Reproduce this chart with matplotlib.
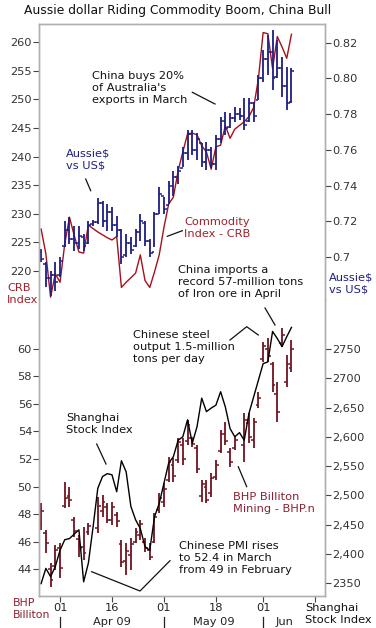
import numpy as np
import pandas as pd
import matplotlib
matplotlib.use('Agg')
import matplotlib.pyplot as plt
from matplotlib.lines import Line2D

# Trading days shown on the chart
dates = pd.bdate_range('2009-03-26', '2009-06-09')

# Aussie dollar vs US$ (OHLC)
aud_open = [0.7030, 0.6960, 0.6880, 0.6900, 0.6900, 0.7060, 0.7150, 0.7100, 0.7080, 0.7110,
            0.7080, 0.7185, 0.7195, 0.7300, 0.7200, 0.7250, 0.7180, 0.7150, 0.7010, 0.7080,
            0.7060, 0.7140, 0.7190, 0.7090, 0.7030, 0.7240, 0.7340, 0.7290, 0.7400, 0.7450,
            0.7500, 0.7580, 0.7690, 0.7600, 0.7640, 0.7530, 0.7600, 0.7520, 0.7660, 0.7760,
            0.7730, 0.7780, 0.7800, 0.7790, 0.7760, 0.7860, 0.7880, 0.8000, 0.8110, 0.8150,
            0.8010, 0.8060, 0.7960, 0.7870]
aud_high = [0.7045, 0.6970, 0.6923, 0.6970, 0.6998, 0.7204, 0.7222, 0.7176, 0.7176, 0.7129,
            0.7204, 0.7207, 0.7330, 0.7316, 0.7297, 0.7278, 0.7232, 0.7157, 0.7129, 0.7110,
            0.7157, 0.7241, 0.7204, 0.7101, 0.7250, 0.7390, 0.7334, 0.7428, 0.7484, 0.7512,
            0.7614, 0.7711, 0.7711, 0.7693, 0.7637, 0.7646, 0.7618, 0.7683, 0.7786, 0.7814,
            0.7805, 0.7842, 0.7833, 0.7889, 0.7889, 0.7870, 0.8019, 0.8159, 0.8243, 0.8271,
            0.8215, 0.8122, 0.8066, 0.8057]
aud_low = [0.6970, 0.6830, 0.6784, 0.6811, 0.6886, 0.7054, 0.7073, 0.7036, 0.7045, 0.7036,
           0.7073, 0.7176, 0.7185, 0.7166, 0.7148, 0.7148, 0.7110, 0.6961, 0.6998, 0.7017,
           0.7054, 0.7092, 0.7064, 0.6998, 0.7054, 0.7241, 0.7241, 0.7297, 0.7344, 0.7409,
           0.7502, 0.7543, 0.7571, 0.7543, 0.7506, 0.7487, 0.7497, 0.7487, 0.7637, 0.7683,
           0.7721, 0.7758, 0.7767, 0.7711, 0.7758, 0.7758, 0.7879, 0.7982, 0.8019, 0.7935,
           0.8001, 0.7898, 0.7823, 0.7861]
aud_close = [0.6990, 0.6880, 0.6900, 0.6860, 0.6980, 0.7150, 0.7100, 0.7080, 0.7120, 0.7060,
             0.7180, 0.7195, 0.7300, 0.7200, 0.7250, 0.7180, 0.7150, 0.7000, 0.7080, 0.7040,
             0.7140, 0.7200, 0.7090, 0.7020, 0.7240, 0.7350, 0.7270, 0.7400, 0.7450, 0.7480,
             0.7580, 0.7690, 0.7600, 0.7660, 0.7530, 0.7600, 0.7520, 0.7660, 0.7760, 0.7720,
             0.7780, 0.7800, 0.7790, 0.7740, 0.7860, 0.7790, 0.8000, 0.8110, 0.8150, 0.8000,
             0.8060, 0.7960, 0.7860, 0.8040]

# Commodity index - CRB (None = market closed)
crb = [227.3, 223.0, 215.4, 219.5, 218.0, 224.7, 229.4, 226.2, 223.3, 223.1,
       228.0, None, 226.8, 226.3, 225.8, 225.4, 226.0, 217.1, 218.0, 218.8,
       219.6, 222.8, 218.3, 217.1, 219.8, 222.8, 227.6, 231.7, 232.9, 237.5,
       240.8, 244.0, 244.1, 243.8, 241.9, 240.8, 237.8, 241.7, 242.0, 245.4,
       243.2, 244.8, None, 246.1, 247.0, 248.6, 253.6, 261.7, 261.5, 255.4,
       261.0, 259.2, 257.2, 261.4]

# BHP Billiton Mining - BHP.n (OHLC)
bhp_open = [47.2, 46.6, 44.0, 44.2, 45.5, 48.6, 49.3, 47.6, 46.2, 45.6,
            46.7, None, 47.0, 48.2, 48.5, 47.6, 47.9, 45.8, 44.6, 45.0,
            46.0, 46.5, 46.0, 45.4, 46.0, 48.3, 48.9, 50.5, 51.6, 51.9,
            53.0, 53.3, 53.5, 52.8, 49.3, 50.0, 49.5, 50.7, 52.6, 53.8,
            52.5, 52.8, None, 53.0, 54.6, 53.4, 55.9, 59.3, 60.0, 58.9,
            56.7, 60.4, 57.6, 58.6]
bhp_high = [48.77, 46.84, 44.41, 45.75, 45.87, 50.35, 49.99, 47.81, 46.47, 47.08,
            47.32, None, 49.26, 49.38, 48.77, 48.90, 48.17, 46.11, 45.87, 46.23,
            46.96, 47.56, 46.23, 45.87, 48.05, 49.50, 50.23, 52.17, 52.05, 53.50,
            53.50, 54.83, 53.62, 53.02, 50.47, 50.47, 50.96, 51.93, 54.11, 54.71,
            52.77, 53.62, None, 55.32, 55.32, 54.96, 56.90, 60.53, 60.77, 59.08,
            57.62, 61.50, 59.56, 60.65]
bhp_low = [46.84, 45.14, 42.72, 43.93, 43.32, 48.41, 48.53, 46.35, 44.90, 44.65,
           46.47, None, 46.59, 47.81, 47.32, 47.20, 47.08, 44.17, 43.56, 43.93,
           45.87, 46.11, 45.26, 44.65, 45.87, 48.05, 48.53, 50.35, 50.35, 51.68,
           51.56, 53.02, 52.90, 50.96, 48.90, 48.77, 49.26, 50.47, 52.41, 53.02,
           51.44, 52.65, None, 51.80, 53.14, 52.77, 55.68, 59.08, 59.08, 56.90,
           54.71, 60.17, 57.26, 58.35]
bhp_close = [48.2, 45.9, 43.2, 45.4, 44.1, 49.2, 49.0, 46.8, 45.5, 45.2,
             47.1, None, 48.6, 48.9, 47.6, 48.5, 47.5, 44.5, 45.3, 45.8,
             46.7, 47.3, 45.5, 44.9, 47.8, 49.2, 49.8, 51.8, 50.8, 53.2,
             52.0, 54.5, 53.1, 51.3, 50.2, 49.0, 50.6, 51.6, 53.8, 53.3,
             51.8, 53.4, None, 54.8, 53.6, 54.7, 56.4, 60.2, 59.5, 57.4,
             55.4, 61.0, 58.9, 60.0]

# Shanghai Stock Index (None = market closed)
shanghai = [2349, 2375, 2361, 2378, 2406, 2424, 2426, None, 2441, 2352,
            2384, 2446, 2512, 2532, 2537, 2535, 2506, 2559, 2540, 2481,
            2458, 2443, 2412, 2406, 2463, 2486, None, 2555, 2566, 2594,
            2600, 2629, 2589, 2617, 2666, 2643, 2649, 2654, 2677, 2651,
            2614, 2600, 2607, 2594, 2640, None, None, 2725, 2728, 2780,
            2768, 2754, 2771, 2787]

navy = '#1e1e82'
red = '#a3121c'
maroon = '#6e1420'
frame = '#b0b0b0'
W, H = 376, 628

day = np.busday_count(np.datetime64('2009-04-01'), dates.values.astype('datetime64[D]'))


def arr(v):
    return np.array([np.nan if a is None else a for a in v], dtype=float)


def ohlc(ax, x, o, h, l, c, color, w=0.6):
    o, h, l, c = arr(o), arr(h), arr(l), arr(c)
    ok = ~np.isnan(h)
    ax.vlines(x[ok], l[ok], h[ok], color=color, lw=1.3)
    ax.hlines(o[ok], x[ok] - w, x[ok], color=color, lw=1.1)
    ax.hlines(c[ok], x[ok], x[ok] + w, color=color, lw=1.1)


def line(ax, x, v, color):
    s = pd.Series(arr(v), index=x).dropna()
    ax.plot(s.index, s.values, color=color, lw=1.0)


def px(x, y):
    return x / W, 1 - y / H


fig = plt.figure(figsize=(W / 100, H / 100), dpi=100)
fig.patch.set_facecolor('white')

ax1 = fig.add_axes([39 / W, 1 - 300 / H, 286 / W, 276 / H])
ax1r = ax1.twinx()
ax2 = fig.add_axes([39 / W, 1 - 596 / H, 286 / W, 296 / H])
ax2r = ax2.twinx()

line(ax1, day, crb, red)
ohlc(ax1r, day, aud_open, aud_high, aud_low, aud_close, navy)
ohlc(ax2, day, bhp_open, bhp_high, bhp_low, bhp_close, maroon)
line(ax2r, day, shanghai, 'black')

for a in (ax1, ax1r, ax2, ax2r):
    a.set_xlim(-4.45, 56.1)
    for s in a.spines.values():
        s.set_color(frame)
        s.set_linewidth(1.0)
    a.tick_params(axis='y', length=4, width=0.8, color='#444444', pad=1,
                  labelsize=8.2, labelcolor='#333333')
for a in (ax1, ax1r):
    a.spines['bottom'].set_visible(False)
    a.tick_params(axis='x', bottom=False, labelbottom=False)
for a in (ax2, ax2r):
    a.spines['top'].set_visible(False)

ax1.set_ylim(214.9, 263.2)
ax1.set_yticks(range(220, 261, 5))
ax1r.set_ylim(0.6759, 0.8305)
ax1r.set_yticks([0.70, 0.72, 0.74, 0.76, 0.78, 0.80, 0.82])
ax1r.set_yticklabels(['0.7', '0.72', '0.74', '0.76', '0.78', '0.80', '0.82'])

ax2.set_ylim(42.04, 63.56)
ax2.set_yticks(range(44, 61, 2))
ax2r.set_ylim(2327.8, 2833.8)
ax2r.set_yticks(range(2350, 2751, 50))
ax2r.set_yticklabels(['2350', '2,400', '2,450', '2,500', '2,550', '2,600',
                      '2,650', '2700', '2750'])

tick_dates = np.array(['2009-04-01', '2009-04-16', '2009-05-01', '2009-05-18',
                       '2009-06-01', '2009-06-16'], dtype='datetime64[D]')
tick_day = np.busday_count(np.datetime64('2009-04-01'), tick_dates)
ax2.set_xticks(tick_day)
ax2.set_xticklabels(['01', '16', '01', '18', '01', ''])
ax2.tick_params(axis='x', length=4, width=0.8, color='#444444', pad=1,
                labelsize=8.2, labelcolor='#222222')
ax2r.tick_params(axis='x', bottom=False, labelbottom=False)

# month row under the day labels
xt = ax2.get_xaxis_transform()
for d in tick_day[[0, 2, 4]]:
    ax2.plot([d, d], [-0.072, -0.11], transform=xt, color='#222222', lw=0.9,
             clip_on=False)
for lab, d in [('Apr 09', 11), ('May 09', 32.5), ('Jun', 47.6)]:
    ax2.text(d, -0.088, lab, transform=xt, ha='center', va='center',
             fontsize=8.2, color='#222222')

fs = 8.2
ls = 1.22


def note(x, y, s, color='#111111', size=fs):
    fig.text(*px(x, y), s, ha='left', va='top', fontsize=size, color=color,
             linespacing=ls)


def pointer(pts):
    xs = [p[0] / W for p in pts]
    ys = [1 - p[1] / H for p in pts]
    fig.add_artist(Line2D(xs, ys, color='#111111', lw=0.9))


note(24, 4, 'Aussie dollar Riding Commodity Boom, China Bull', size=8.9)
note(66, 149, 'Aussie$\nvs US$', color=navy)
pointer([(85.7, 179), (90.7, 190.7)])
note(91.5, 71, "China buys 20%\nof Australia's\nexports in March")
pointer([(192.3, 92.3), (215, 104)])
note(184.5, 217, 'Commodity\nIndex - CRB', color='#a3202a')
pointer([(167.3, 236.3), (182.3, 230.7)])
note(178, 265, 'China imports a\nrecord 57-million tons\nof Iron ore in April')
pointer([(265, 308), (275, 325)])
note(329, 273, 'Aussie$\nvs US$', color=navy)
note(7, 283, 'CRB\nIndex', color='#a3202a')
note(133, 330, 'Chinese steel\noutput 1.5-million\ntons per day')
pointer([(230, 340), (246.7, 326.7), (258.3, 335)])
note(66.5, 413, 'Shanghai\nStock Index')
pointer([(96.7, 444), (106, 464)])
note(233, 492, 'BHP Billiton\nMining - BHP.n', color='#8b2030')
pointer([(238.3, 466.7), (246.7, 486.7)])
note(179, 541, 'Chinese PMI rises\nto 52.4 in March\nfrom 49 in February')
pointer([(91.7, 571.7), (140, 591), (170, 560.7)])
note(13, 598, 'BHP\nBilliton', color='#8b2030', size=7.8)
note(305, 603, 'Shanghai\nStock Index')

fig.savefig('out.png', dpi=100, facecolor='white')
